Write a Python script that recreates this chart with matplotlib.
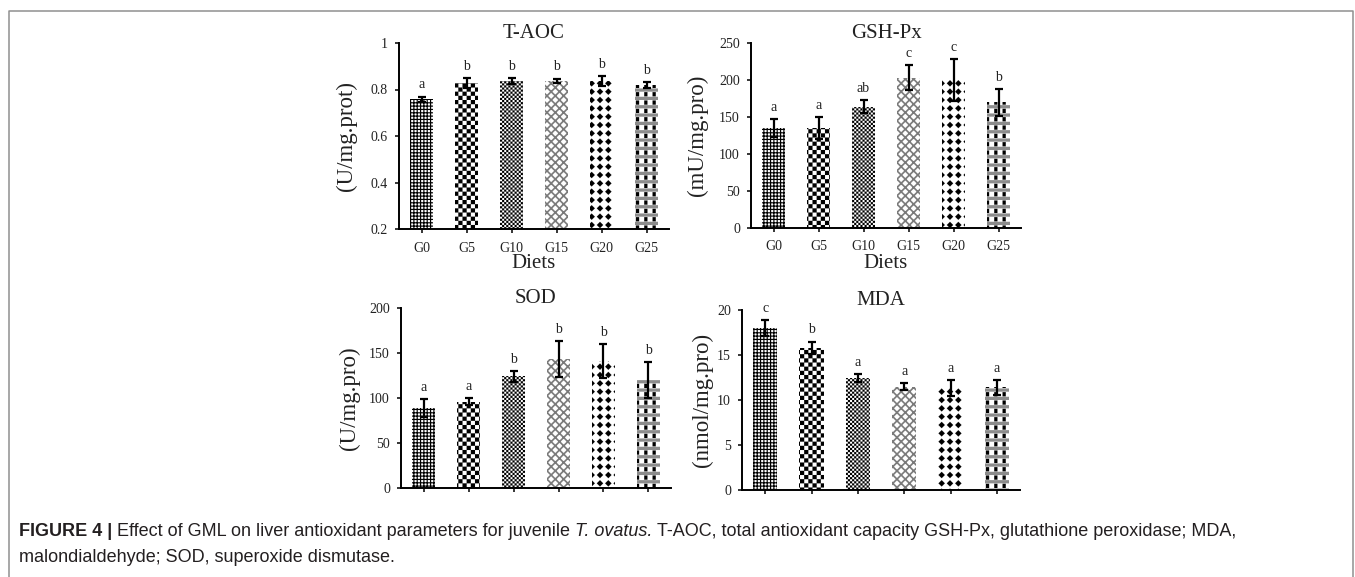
import numpy as np
import matplotlib
matplotlib.use('Agg')
import matplotlib.pyplot as plt
import matplotlib.hatch as mhatch
from matplotlib.path import Path
from matplotlib.lines import Line2D

# ---------------- data ----------------
diets = ['G0', 'G5', 'G10', 'G15', 'G20', 'G25']

taoc = [0.757, 0.827, 0.837, 0.837, 0.836, 0.818]
taoc_err = [0.012, 0.022, 0.012, 0.010, 0.022, 0.013]
taoc_letters = ['a', 'b', 'b', 'b', 'b', 'b']
taoc_ticks = [0.2, 0.4, 0.6, 0.8, 1.0]
taoc_ticklabels = ['0.2', '0.4', '0.6', '0.8', '1']

gsh = [135, 135, 164, 203, 200, 170]
gsh_err = [12, 15, 9, 17, 28, 18]
gsh_letters = ['a', 'a', 'ab', 'c', 'c', 'b']
gsh_ticks = [0, 50, 100, 150, 200, 250]

sod = [89, 96, 124, 143, 141, 120]
sod_err = [10, 3.5, 6, 20, 19, 20]
sod_letters = ['a', 'a', 'b', 'b', 'b', 'b']
sod_ticks = [0, 50, 100, 150, 200]

mda = [18.0, 15.8, 12.4, 11.5, 11.3, 11.4]
mda_err = [0.9, 0.7, 0.45, 0.4, 0.9, 0.8]
mda_letters = ['c', 'b', 'a', 'a', 'a', 'a']
mda_ticks = [0, 5, 10, 15, 20]

# ---------------- custom hatch patterns ----------------
TILE = 100.0  # hatch tile in px (= dpi)


def _poly_path(polys):
    verts, codes = [], []
    for poly in polys:
        pts = list(poly) + [poly[0]]
        verts += pts
        codes += [Path.MOVETO] + [Path.LINETO] * (len(poly) - 1) + [Path.CLOSEPOLY]
    return Path(np.array(verts, float) / TILE, codes)


def _rect(x, y, w, h):
    return [(x, y), (x + w, y), (x + w, y + h), (x, y + h)]


def pat_grid():
    n, t = 30, 1.1
    p = TILE / n
    polys = [_rect(i * p, 0, t, TILE) for i in range(n)]
    polys += [_rect(0, i * p, TILE, t) for i in range(n)]
    return _poly_path(polys)


def pat_checker(n):
    s = TILE / n
    polys = [_rect(i * s, j * s, s, s) for i in range(n) for j in range(n)
             if (i + j) % 2 == 0]
    return _poly_path(polys)


def pat_lattice():
    n, w = 12, 2.3
    p = TILE / n
    polys = []
    for k in range(-n, n + 1):
        c = k * p
        polys.append([(c, 0), (c + w, 0), (c + w + TILE, TILE), (c + TILE, TILE)])
    for k in range(0, 2 * n + 1):
        c = k * p
        polys.append([(c, 0), (c + w, 0), (c + w - TILE, TILE), (c - TILE, TILE)])
    return _poly_path(polys)


def pat_diamonds():
    n, r = 12, 3.2
    p = TILE / n
    polys = []
    for i in range(n + 1):
        for j in range(n + 1):
            cx, cy = i * p, j * p
            polys.append([(cx + r, cy), (cx, cy + r), (cx - r, cy), (cx, cy - r)])
    return _poly_path(polys)


def pat_bands():
    n, t = 12, 3.2
    p = TILE / n
    return _poly_path([_rect(0, j * p, TILE, t) for j in range(n)])


def pat_squares():
    n, w, h = 12, 3.2, 4.2
    p = TILE / n
    polys = []
    for i in range(n):
        for j in range(n):
            polys.append(_rect(i * p + (p - w) / 2, j * p + 3.2 + (p - 3.2 - h) / 2, w, h))
    return _poly_path(polys)


CUSTOM = {
    'O': pat_grid(),
    'OO': pat_checker(24),
    'OOO': pat_checker(48),
    'OOOO': pat_lattice(),
    'OOOOO': pat_diamonds(),
    'OOOOOO': pat_bands(),
    'OOOOOOO': pat_squares(),
}
_orig_get_path = mhatch.get_path


def _get_path(hatchpattern, density=6):
    if hatchpattern in CUSTOM:
        return CUSTOM[hatchpattern]
    return _orig_get_path(hatchpattern, density)


mhatch.get_path = _get_path

# ---------------- figure ----------------
plt.rcParams['hatch.linewidth'] = 0.05
plt.rcParams['font.family'] = ['Liberation Serif', 'DejaVu Serif']

W, H = 1355, 577
fig = plt.figure(figsize=(W / 100, H / 100), dpi=100)

bar_styles = [('O', 'black'), ('OO', 'black'), ('OOO', 'black'),
              ('OOOO', '#7a7a7a'), ('OOOOO', 'black'), ('OOOOOO', '#8c8c8c')]


def make_axes(l, r, t, b):
    return fig.add_axes([l / W, 1 - b / H, (r - l) / W, (b - t) / H])


def panel(ax, vals, errs, letters, ylim, ticks, ticklabels, title, ylabel,
          ylabel_x, show_x):
    x = np.arange(len(diets))
    bars = ax.bar(x, vals, width=0.52, facecolor='white', linewidth=0, zorder=2)
    for b, (h, c) in zip(bars, bar_styles):
        b.set_hatch(h)
        b.set_edgecolor(c)
        b.set_linewidth(0)
    ax.bar(x[-1:], vals[-1:], width=0.52, facecolor='none',
           edgecolor='black', linewidth=0, hatch='OOOOOOO', zorder=2)
    ax.errorbar(x, vals, yerr=errs, fmt='none', ecolor='black',
                elinewidth=1.6, capsize=3, capthick=1.6, zorder=3)
    for xi, v, e, L in zip(x, vals, errs, letters):
        ax.annotate(L, (xi, v + e), xytext=(0, 8.5), textcoords='offset points',
                    ha='center', va='center', fontsize=10, color='#222222')
    ax.set_xlim(-0.5, len(diets) - 0.5)
    ax.set_ylim(*ylim)
    ax.set_yticks(ticks)
    ax.set_yticklabels(ticklabels)
    ax.set_xticks(x)
    if show_x:
        ax.set_xticklabels(diets)
        ax.set_xlabel('Diets', fontsize=15, labelpad=0, color='#222222')
    else:
        ax.set_xticklabels([''] * len(diets))
    for s in ['top', 'right']:
        ax.spines[s].set_visible(False)
    for s in ['left', 'bottom']:
        ax.spines[s].set_linewidth(1.4)
        ax.spines[s].set_color('black')
    ax.tick_params(direction='out', length=3, width=1.1, labelsize=10,
                   colors='black', labelcolor='#222222')
    ax.tick_params(axis='y', pad=5)
    ax.tick_params(axis='x', pad=6)
    ax.set_title(title, fontsize=15, pad=2, color='#222222')
    ax.set_ylabel(ylabel, fontsize=16.5, color='#222222')
    ax.yaxis.set_label_coords(ylabel_x, 0.5)
    ax.patch.set_alpha(0)


ax1 = make_axes(399, 669, 43, 229)
panel(ax1, taoc, taoc_err, taoc_letters, (0.2, 1.0), taoc_ticks, taoc_ticklabels,
      'T-AOC', '(U/mg.prot)', -42 / 270, True)

ax2 = make_axes(751, 1021, 43, 228)
panel(ax2, gsh, gsh_err, gsh_letters, (0, 250), gsh_ticks,
      [str(t) for t in gsh_ticks], 'GSH-Px', '(mU/mg.pro)', -43 / 270, True)

ax3 = make_axes(401, 671, 308, 488)
panel(ax3, sod, sod_err, sod_letters, (0, 200), sod_ticks,
      [str(t) for t in sod_ticks], 'SOD', '(U/mg.pro)', -41 / 270, False)

ax4 = make_axes(742, 1020, 310, 490)
panel(ax4, mda, mda_err, mda_letters, (0, 20), mda_ticks,
      [str(t) for t in mda_ticks], 'MDA', '(nmol/mg.pro)', -29 / 278, False)

# ---------------- frame ----------------
fx0, fx1, fy1 = 8.5 / W, 1352.5 / W, 1 - 10.5 / H
fig.add_artist(Line2D([fx0, fx0, fx1, fx1], [0, fy1, fy1, 0],
                      transform=fig.transFigure, color='#8f8f8f', lw=1.1))

# ---------------- caption ----------------
cap_font = ['Liberation Sans', 'DejaVu Sans']
cap_color = '#231f20'
renderer = fig.canvas.get_renderer()

line1 = [('FIGURE 4 |', dict(weight='bold')),
         ('Effect of GML on liver antioxidant parameters for juvenile', {}),
         ('T. ovatus.', dict(style='italic')),
         ('T-AOC, total antioxidant capacity GSH-Px, glutathione peroxidase; MDA,', {})]
line2 = [('malondialdehyde; SOD, superoxide dismutase.', {})]


def chain(pieces, x_px, y_px, size):
    gap = 0.26 * size * 100 / 72
    made = []
    for txt, kw in pieces:
        t = fig.text(x_px / W, 1 - y_px / H, txt, fontsize=size, family=cap_font,
                     color=cap_color, va='center', ha='left', **kw)
        made.append(t)
        bb = t.get_window_extent(renderer)
        x_px = bb.x1 + gap
    return made, x_px - gap


size = 11.5
made, end = chain(line1, 19, 531, size)
target_end = 1240
size = size * (target_end - 19) / (end - 19)
for t in made:
    t.remove()
chain(line1, 19, 531, size)
chain(line2, 19, 558, size)

fig.savefig('out.png', dpi=100)
